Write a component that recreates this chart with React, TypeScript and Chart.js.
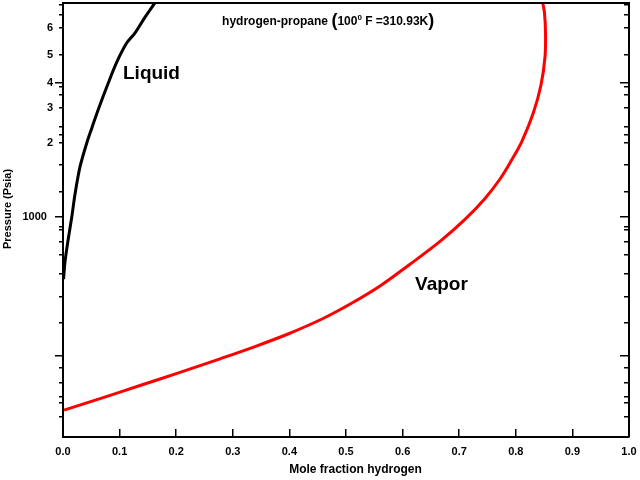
import { useEffect, useRef } from 'react';
import { Chart, registerables } from 'chart.js';

Chart.register(...registerables);

const FONT = "'Liberation Sans', Arial, Helvetica, sans-serif";

// Liquid (black) curve: mole fraction hydrogen vs pressure
const liquidX = [0.001, 0.0035, 0.009, 0.0155, 0.021, 0.03, 0.042, 0.051, 0.062, 0.08, 0.095, 0.1125, 0.127, 0.145, 0.166];
const liquidP = [352, 470, 680, 1000, 1450, 2320, 3470, 4470, 6040, 9510, 13500, 18600, 22000, 28800, 38400];

// Vapor (red) curve
const vaporX = [0.0018, 0.0654, 0.136, 0.2067, 0.2774, 0.3392, 0.3975, 0.4576, 0.5106, 0.5601, 0.6131, 0.6661, 0.7102, 0.7456, 0.7721, 0.7927, 0.811, 0.8309, 0.8445, 0.8516, 0.8525, 0.8507, 0.8472];
const vaporP = [39.0, 47.3, 58.9, 73.5, 92.3, 113.4, 140.0, 180.1, 235.7, 313.6, 452.2, 663.5, 960.5, 1367, 1894, 2607, 3587, 5743, 9194, 14720, 22040, 30840, 37410];

// Axes
const xMin = 0;
const xMax = 1;
const xTicks = [0, 0.1, 0.2, 0.3, 0.4, 0.5, 0.6, 0.7, 0.8, 0.9, 1.0];
const xTickLabels = ['0.0', '0.1', '0.2', '0.3', '0.4', '0.5', '0.6', '0.7', '0.8', '0.9', '1.0'];

const yMin = 24.8;
const yMax = 36475;
const yTicks = [34.7, 43.9, 48.5, 61.4, 79, 96.7, 168, 261, 384, 528, 657, 804, 845, 1000, 1522, 2397, 3469, 3967, 4538, 6247, 7774, 8890, 9509, 15220, 23970, 29820, 35240];
const yTickLabels = ['', '', '', '', '', '', '', '', '', '', '', '', '', '1000  ', '', '', '2', '', '', '3', '', '', '4', '5', '6', '', ''];
const yMajorTicks = [96.7, 1000, 9509];

// Texts
const titleParts = ['hydrogen-propane ', '(', '100', '0', ' F =310.93K', ')'];
const titleAnchor = { x: 0.281, p: 25400 };
const curveLabels = [
  { text: 'Liquid', x: 0.106, p: 10160 },
  { text: 'Vapor', x: 0.622, p: 293 },
];
const xTitle = 'Mole fraction hydrogen';
const yTitle = 'Pressure (Psia)';

const isMajorY = (v: number) => yMajorTicks.includes(v);

const overlayPlugin = {
  id: 'overlayText',
  afterDraw(chart: any) {
    const { ctx, chartArea: ca, scales } = chart;
    const xs = scales.x;
    const ys = scales.y;
    ctx.save();
    // frame top and right
    ctx.strokeStyle = '#000';
    ctx.lineWidth = 2;
    ctx.beginPath();
    ctx.moveTo(ca.left, ca.top);
    ctx.lineTo(ca.right, ca.top);
    ctx.lineTo(ca.right, ca.bottom);
    ctx.stroke();

    ctx.fillStyle = '#000';
    ctx.textAlign = 'left';
    ctx.textBaseline = 'alphabetic';

    // curve labels
    ctx.font = `bold 19px ${FONT}`;
    curveLabels.forEach((l) => {
      ctx.fillText(l.text, xs.getPixelForValue(l.x), ys.getPixelForValue(l.p));
    });

    // title
    const sizes = [12, 18, 12, 8, 12, 18];
    const rises = [0, -1, 0, 5, 0, -1];
    let tx = xs.getPixelForValue(titleAnchor.x);
    const ty = ys.getPixelForValue(titleAnchor.p);
    titleParts.forEach((t, i) => {
      ctx.font = `bold ${sizes[i]}px ${FONT}`;
      ctx.fillText(t, tx, ty - rises[i]);
      tx += ctx.measureText(t).width;
    });

    // axis titles
    ctx.textAlign = 'center';
    ctx.textBaseline = 'middle';
    ctx.font = `bold 12px ${FONT}`;
    ctx.fillText(xTitle, (ca.left + ca.right) / 2 + 9.5, ca.bottom + 33);
    ctx.save();
    ctx.translate(7.5, (ca.top + ca.bottom) / 2 - 11);
    ctx.rotate(-Math.PI / 2);
    ctx.font = `bold 11px ${FONT}`;
    ctx.fillText(yTitle, 0, 0);
    ctx.restore();

    ctx.restore();
  },
};

export default function App() {
  const canvasRef = useRef<HTMLCanvasElement | null>(null);

  useEffect(() => {
    if (!canvasRef.current) return;
    Chart.defaults.font.family = FONT;
    Chart.defaults.color = '#000';

    const chart = new Chart(canvasRef.current, {
      type: 'scatter',
      data: {
        datasets: [
          {
            label: 'Liquid',
            data: liquidX.map((x, i) => ({ x, y: liquidP[i] })),
            showLine: true,
            borderColor: '#000000',
            backgroundColor: '#000000',
            borderWidth: 3,
            pointRadius: 0,
            tension: 0.3,
          },
          {
            label: 'Vapor',
            data: vaporX.map((x, i) => ({ x, y: vaporP[i] })),
            showLine: true,
            borderColor: '#ff0000',
            backgroundColor: '#ff0000',
            borderWidth: 3,
            pointRadius: 0,
            tension: 0.35,
          },
        ],
      },
      options: {
        animation: false,
        responsive: false,
        layout: { padding: { left: 0, top: 3, right: 11, bottom: 0 } },
        plugins: {
          legend: { display: false },
          tooltip: { enabled: false },
          title: { display: false },
        },
        scales: {
          x: {
            type: 'linear',
            position: 'bottom',
            min: xMin,
            max: xMax,
            afterBuildTicks: (s: any) => {
              s.ticks = xTicks.map((v) => ({ value: v }));
            },
            afterFit: (s: any) => {
              s.height = 43;
              s.paddingLeft = 0;
              s.paddingRight = 0;
              s.paddingTop = 0;
              s.paddingBottom = 0;
            },
            ticks: {
              autoSkip: false,
              maxRotation: 0,
              padding: 8,
              font: { size: 11, weight: 'bold' },
              color: '#000',
              callback: (_v: any, i: number) => xTickLabels[i],
            },
            grid: {
              display: true,
              drawOnChartArea: true,
              drawTicks: false,
              color: '#000',
              lineWidth: 1.5,
            },
            border: {
              display: true,
              color: '#000',
              width: 2,
              dash: (c: any) => {
                if (c.type !== 'tick' || !c.chart.chartArea) return [];
                const ca = c.chart.chartArea;
                const H = ca.bottom - ca.top - 1;
                const L = 7;
                return [0, H - L, L + 20];
              },
            },
          },
          y: {
            type: 'logarithmic',
            position: 'left',
            min: yMin,
            max: yMax,
            bounds: 'data',
            afterBuildTicks: (s: any) => {
              s.ticks = yTicks.map((v) => ({ value: v }));
            },
            afterFit: (s: any) => {
              s.width = 63;
              s.paddingLeft = 0;
              s.paddingRight = 0;
              s.paddingTop = 0;
              s.paddingBottom = 0;
            },
            ticks: {
              autoSkip: false,
              padding: 2,
              font: { size: 11, weight: 'bold' },
              color: '#000',
              callback: (_v: any, i: number) => yTickLabels[i],
            },
            grid: {
              display: true,
              drawOnChartArea: true,
              drawTicks: true,
              tickLength: 8,
              color: '#000',
              lineWidth: 1.5,
              tickColor: '#000',
              tickWidth: 1.5,
              tickBorderDash: (c: any) =>
                c.type === 'tick' && c.tick && !isMajorY(c.tick.value) ? [0, 4, 20] : [],
            },
            border: {
              display: true,
              color: '#000',
              width: 2,
              dash: (c: any) => {
                if (c.type !== 'tick' || !c.chart.chartArea || !c.tick) return [];
                const ca = c.chart.chartArea;
                const W = ca.right - ca.left - 1;
                const L = isMajorY(c.tick.value) ? 9 : 5;
                return [0, W - L, L + 20];
              },
            },
          },
        },
      } as any,
      plugins: [overlayPlugin],
    });

    return () => chart.destroy();
  }, []);

  return (
    <div style={{ position: 'fixed', left: 0, top: 0, width: 640, height: 480, background: '#fff' }}>
      <canvas ref={canvasRef} width={640} height={480} style={{ display: 'block' }} />
    </div>
  );
}
